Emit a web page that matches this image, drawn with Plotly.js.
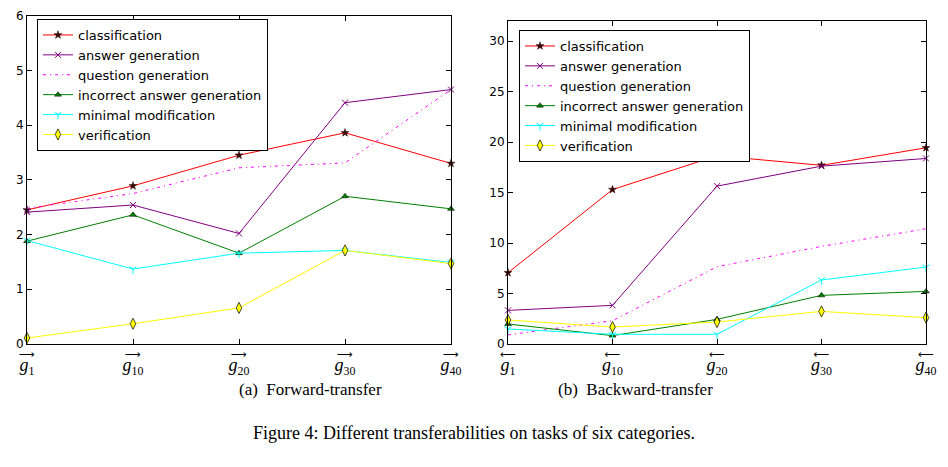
<!DOCTYPE html>
<html><head><meta charset="utf-8">
<script src="https://cdn.plot.ly/plotly-3.0.1.min.js"></script>
<style>html,body{margin:0;padding:0;background:#fff}#chart{width:948px;height:467px}</style>
</head><body><div id="chart"></div>
<script>
const steps = [0, 1, 2, 3, 4];
const stepNames = ["1", "10", "20", "30", "40"];
const fwdArrow = "⟶";
const bwdArrow = "⟵";
const seriesNames = ["classification", "answer generation", "question generation", "incorrect answer generation", "minimal modification", "verification"];

// Forward-transfer
const fwdClassification = [2.45, 2.89, 3.45, 3.86, 3.30];
const fwdAnswerGen = [2.41, 2.54, 2.02, 4.41, 4.65];
const fwdQuestionGen = [2.48, 2.75, 3.22, 3.31, 4.65];
const fwdIncorrectGen = [1.88, 2.36, 1.66, 2.70, 2.47];
const fwdMinimalMod = [1.89, 1.37, 1.66, 1.71, 1.49];
const fwdVerification = [0.11, 0.37, 0.66, 1.71, 1.47];

// Backward-transfer
const bwdClassification = [7.06, 15.3, 18.65, 17.7, 19.44];
const bwdAnswerGen = [3.33, 3.83, 15.64, 17.62, 18.38];
const bwdQuestionGen = [0.9, 2.31, 7.66, 9.67, 11.42];
const bwdIncorrectGen = [1.98, 0.83, 2.44, 4.82, 5.21];
const bwdMinimalMod = [1.49, 0.96, 0.96, 6.34, 7.62];
const bwdVerification = [2.38, 1.68, 2.18, 3.23, 2.61];

function tickLabel(arrow, n) {
  return '<span style="font-family:DejaVu Sans;font-size:11px">' + arrow + '</span><br>' +
         '<span style="font-family:Liberation Serif;font-size:18px"><i>g</i></span>' +
         '<span style="font-family:Liberation Serif;font-size:17px"><sub>' + n + '</sub></span>';
}
const fwdTicks = stepNames.map(n => tickLabel(fwdArrow, n));
const bwdTicks = stepNames.map(n => tickLabel(bwdArrow, n));

const styles = [
  {line: {color: 'red', width: 1}, mode: 'lines+markers', marker: {symbol: 'star', size: 6, color: '#300000', line: {color: '#300000', width: 0.5}}},
  {line: {color: 'purple', width: 1}, mode: 'lines+markers', marker: {symbol: 'x-thin-open', size: 6, color: 'purple', line: {color: 'purple', width: 1}}},
  {line: {color: 'magenta', width: 1, dash: '3px,4px,1px,4px'}, mode: 'lines'},
  {line: {color: 'green', width: 1}, mode: 'lines+markers', marker: {symbol: 'triangle-up', size: 6, color: 'green', line: {color: 'black', width: 0.5}}},
  {line: {color: 'cyan', width: 1}, mode: 'lines+markers', marker: {symbol: 'y-down-open', size: 6, color: 'cyan', line: {color: 'cyan', width: 1}}},
  {line: {color: 'yellow', width: 1}, mode: 'lines+markers', marker: {symbol: 'diamond-tall', size: 8, color: 'yellow', line: {color: 'black', width: 0.7}}}
];

const fwd = [fwdClassification, fwdAnswerGen, fwdQuestionGen, fwdIncorrectGen, fwdMinimalMod, fwdVerification];
const bwd = [bwdClassification, bwdAnswerGen, bwdQuestionGen, bwdIncorrectGen, bwdMinimalMod, bwdVerification];

const traces = [];
fwd.forEach((ys, i) => traces.push(Object.assign({x: steps, y: ys, name: seriesNames[i], xaxis: 'x', yaxis: 'y', legend: 'legend', type: 'scatter', cliponaxis: false}, JSON.parse(JSON.stringify(styles[i])))));
bwd.forEach((ys, i) => traces.push(Object.assign({x: steps, y: ys, name: seriesNames[i], xaxis: 'x2', yaxis: 'y2', legend: 'legend2', type: 'scatter', cliponaxis: false}, JSON.parse(JSON.stringify(styles[i])))));

const axisCommon = {showgrid: false, zeroline: false, showline: true, linecolor: 'black', linewidth: 1, mirror: 'ticks', ticks: 'inside', ticklen: 5, tickcolor: 'black'};
const xCommon = Object.assign({}, axisCommon, {range: [0, 4], tickvals: steps, tickfont: {family: 'Liberation Serif, serif', size: 10, color: 'black'}, ticklabelstandoff: 1});
const yFont = {family: 'DejaVu Sans, sans-serif', size: 12, color: 'black'};

const legendCommon = {bgcolor: 'white', bordercolor: 'black', borderwidth: 1, font: {family: 'DejaVu Sans, sans-serif', size: 13, color: 'black'}, xanchor: 'left', yanchor: 'top', tracegroupgap: 0, itemwidth: 30};

const layout = {
  width: 948, height: 467,
  margin: {l: 0, r: 0, t: 0, b: 0},
  paper_bgcolor: 'white', plot_bgcolor: 'white',
  showlegend: true,
  xaxis: Object.assign({}, xCommon, {domain: [27/948, 451/948], ticktext: fwdTicks, anchor: 'y'}),
  yaxis: Object.assign({}, axisCommon, {domain: [1 - 344/467, 1 - 15.7/467], range: [0, 6], dtick: 1, tickfont: yFont, anchor: 'x'}),
  xaxis2: Object.assign({}, xCommon, {domain: [508/948, 926/948], ticktext: bwdTicks, anchor: 'y2'}),
  yaxis2: Object.assign({}, axisCommon, {domain: [1 - 344/467, 1 - 21/467], range: [0, 32], tickvals: [0, 5, 10, 15, 20, 25, 30], tickfont: yFont, anchor: 'x2'}),
  legend: Object.assign({}, legendCommon, {x: 37/948, y: 1 - 19/467}),
  legend2: Object.assign({}, legendCommon, {x: 519/948, y: 1 - 30/467}),
  annotations: [
    {text: '(a)  Forward-transfer', x: 237/948, y: 1 - 401/467, xref: 'paper', yref: 'paper', showarrow: false, font: {family: 'Liberation Serif, serif', size: 17, color: 'black'}},
    {text: '(b)  Backward-transfer', x: 715/948, y: 1 - 401/467, xref: 'paper', yref: 'paper', showarrow: false, font: {family: 'Liberation Serif, serif', size: 17, color: 'black'}},
    {text: 'Figure 4: Different transferabilities on tasks of six categories.', x: 474/948, y: 1 - 445/467, xref: 'paper', yref: 'paper', showarrow: false, font: {family: 'Liberation Serif, serif', size: 18, color: 'black'}}
  ]
};

Plotly.newPlot('chart', traces, layout, {displayModeBar: false, staticPlot: true});
</script>
</body></html>
